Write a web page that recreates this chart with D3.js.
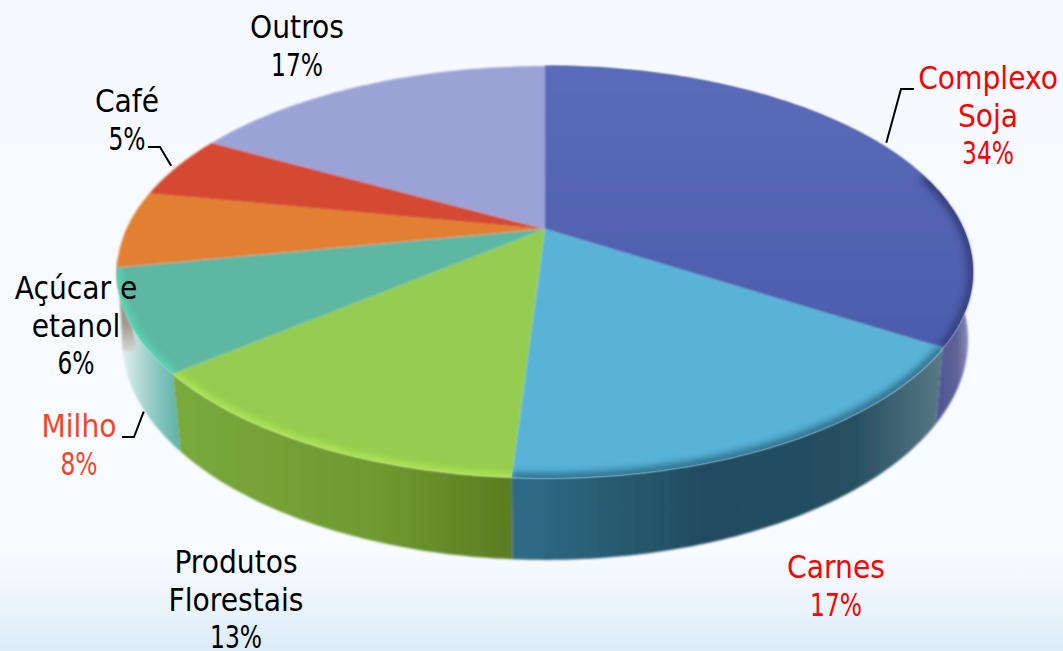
<!DOCTYPE html>
<html><head><meta charset="utf-8">
<style>html,body{margin:0;padding:0;background:#f6faff}svg{display:block}
text{font-family:"DejaVu Sans";font-stretch:condensed;font-size:31.3px;text-anchor:middle}</style>
<script src="https://cdn.jsdelivr.net/npm/d3@7/dist/d3.min.js"></script></head><body>
<script>
const categories=["Complexo Soja","Carnes","Produtos Florestais","Milho","Açúcar e etanol","Café","Outros"];
const shares=[34,17,13,8,6,5,17];
const topColors=["url(#sojaTop)","#59b3d7","#94cd50","#5db7a2","#e37f30","#d54a30","#9ba3d6"];
const rimColors=["#343f7c","#2f6f8e","#aee455","#56d6b0"];
const rimSpans=[[0.6,1],[0,1],[0,1],[0,1]];
const rimWidths=[11,10,9,9];
const wallStops=[
 [[0,"#4a4f92"],[0.6,"#5f6398"],[1,"#a4a6c8"]],
 [[0,"#2f6c87"],[0.45,"#214c60"],[0.8,"#264f60"],[1,"#557682"]],
 [[0,"#7aa93c"],[0.6,"#6e9a30"],[1,"#5b7c22"]],
 [[0,"#d9ecec"],[0.5,"#8ec9c4"],[1,"#55aea0"]]];
const wallSpans=[[930,975],[512,938],[178,512],[125,184]];
const labelLines=[["Complexo","Soja","34%"],["Carnes","17%"],["Produtos","Florestais","13%"],["Milho","8%"],["Açúcar e","etanol","6%"],["Café","5%"],["Outros","17%"]];
const labelColors=["#ff0000","#ff0000","#000","#f4452a","#000","#000","#000"];
const labelPos=[[988,89],[836,578],[236,573],[79,437],[76,299],[127,112],[297,38]];

const W=1063,H=651;
const p=0.2087;
const topProj={x:d3.scaleLinear().domain([-1,1]).range([545-418.6,545+418.6]),y:d3.scaleLinear().domain([-1,1]).range([229-197,229+197])};
const botProj={x:d3.scaleLinear().domain([-1,1]).range([545-413.7,545+413.7]),y:d3.scaleLinear().domain([-1,1]).range([294-210.4,294+210.4])};
function pt(proj,a){const u=Math.sin(a),v=-Math.cos(a),w=1-p*v;return [proj.x(u/w),proj.y(v/w)];}
const rim=(proj,a0,a1)=>{const n=Math.max(2,Math.ceil(Math.abs(a1-a0)*60));return d3.range(n+1).map(i=>pt(proj,a0+(a1-a0)*i/n));};
const pinch=a=>Math.PI+(a-Math.PI)*0.985;
const line=d3.line();
const arcs=d3.pie().sort(null).value(d=>d)(shares);
const center=[topProj.x(0),topProj.y(0)];
const topColor=d3.scaleOrdinal().domain(categories).range(topColors);

const svg=d3.select("body").append("svg").attr("width",W).attr("height",H);
const defs=svg.append("defs");
const bg=defs.append("linearGradient").attr("id","bg").attr("x1",0).attr("x2",0).attr("y1",0).attr("y2",1);
[[0,"#f5f9fe"],[0.3,"#f7fbff"],[0.85,"#f8fbff"],[0.93,"#ebf4fb"],[1,"#dcecf8"]].forEach(s=>bg.append("stop").attr("offset",s[0]).attr("stop-color",s[1]));
svg.append("rect").attr("width",W).attr("height",H).attr("fill","url(#bg)");
const sojaTop=defs.append("linearGradient").attr("id","sojaTop").attr("x1",0).attr("x2",0).attr("y1",0).attr("y2",1);
[[0,"#5a6cb9"],[1,"#4c5cac"]].forEach(s=>sojaTop.append("stop").attr("offset",s[0]).attr("stop-color",s[1]));
const patch=defs.append("linearGradient").attr("id","acucarWall").attr("x1",0).attr("x2",0).attr("y1",0).attr("y2",1);
[[0,"#7d7062"],[0.7,"#a49a90"],[1,"#d5dcdc"]].forEach(s=>patch.append("stop").attr("offset",s[0]).attr("stop-color",s[1]));
defs.append("filter").attr("id","soft").attr("x","-10%").attr("y","-10%").attr("width","120%").attr("height","120%").append("feGaussianBlur").attr("stdDeviation",0.8);
defs.append("filter").attr("id","bevel").attr("x","-20%").attr("y","-20%").attr("width","140%").attr("height","140%").append("feGaussianBlur").attr("stdDeviation",3.5);

// walls, back to front
const walls=svg.append("g").attr("filter","url(#soft)");
[3,0,2,1].forEach(i=>{
  const d=arcs[i];
  const g=defs.append("linearGradient").attr("id","wall"+i).attr("gradientUnits","userSpaceOnUse")
    .attr("x1",wallSpans[i][0]).attr("x2",wallSpans[i][1]).attr("y1",0).attr("y2",0);
  wallStops[i].forEach(s=>g.append("stop").attr("offset",s[0]).attr("stop-color",s[1]));
  const pts=rim(topProj,d.startAngle,d.endAngle).concat(rim(botProj,pinch(d.endAngle),pinch(d.startAngle)));
  walls.append("path").attr("d",line(pts)+"Z").attr("fill",`url(#wall${i})`);
});
// sliver of the sugar slice's wall seen behind the rim
const sl=arcs[4].startAngle;
walls.append("path").attr("fill","url(#acucarWall)")
  .attr("d",line(rim(topProj,sl-0.28,sl+0.05).concat([pt(botProj,sl-0.07),[pt(botProj,sl-0.07)[0]+14,pt(botProj,sl-0.07)[1]+2]]))+"Z");

// top surface
const topFace=svg.append("g").attr("filter","url(#soft)");
arcs.forEach((d,i)=>{
  const path=line([center].concat(rim(topProj,d.startAngle,d.endAngle)))+"Z";
  defs.append("clipPath").attr("id","clip"+i).append("path").attr("d",path);
  topFace.append("path").attr("d",path).attr("fill",topColor(categories[i])).append("title").text(categories[i]);
});
// rounded rim shading
const bevel=svg.append("g");
rimColors.forEach((c,i)=>{
  const d=arcs[i], span=d.endAngle-d.startAngle;
  bevel.append("g").attr("clip-path",`url(#clip${i})`).append("path")
    .attr("d",line(rim(topProj,d.startAngle+span*rimSpans[i][0],d.startAngle+span*rimSpans[i][1])))
    .attr("fill","none").attr("stroke",c).attr("stroke-width",rimWidths[i])
    .attr("filter","url(#bevel)");
});

// leaders: each starts at its slice's rim
const mid=d=>(d.startAngle+d.endAngle)/2;
const off=(q,dx,dy)=>[q[0]+dx,q[1]+dy];
const leaders=[
  [off(pt(topProj,mid(arcs[0])),8,0),[901,89],[914,89]],
  [off(pt(topProj,mid(arcs[5])),-6,-1),[160,147],[148,147]],
  [off(pt(botProj,arcs[3].startAngle+(arcs[3].endAngle-arcs[3].startAngle)*0.35),0,2),[134,437],[122,437]]];
svg.append("g").selectAll("path").data(leaders).join("path").attr("d",d=>line(d))
  .attr("fill","none").attr("stroke","#000").attr("stroke-width",2);

// labels: one text per line; the percentage lines are set narrower, as in the reference
svg.append("g").selectAll("g").data(labelLines).join("g")
  .attr("fill",(d,i)=>labelColors[i])
  .attr("transform",(d,i)=>`translate(${labelPos[i][0]},${labelPos[i][1]})`)
  .selectAll("text").data(d=>d).join("text")
  .attr("transform",(d,j)=>`translate(0,${j*37.5})`+(d.endsWith("%")?" scale(0.83,1)":""))
  .text(d=>d);
</script></body></html>
